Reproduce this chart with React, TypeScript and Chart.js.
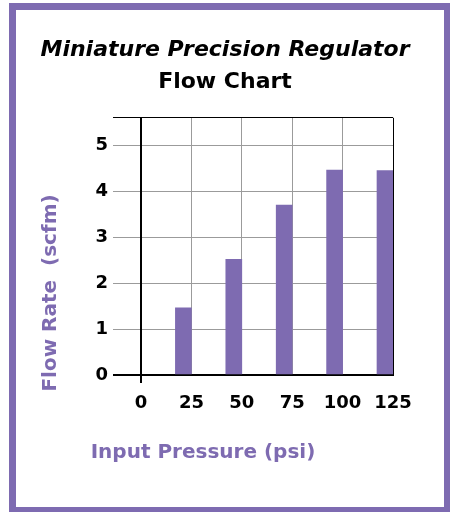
import { useEffect, useRef } from 'react';
import { Chart, registerables } from 'chart.js';

Chart.register(...registerables);

const chartTitle = 'Miniature Precision Regulator';
const chartSubtitle = 'Flow Chart';
const xAxisTitle = 'Input Pressure (psi)';
const yAxisTitle = 'Flow Rate  (scfm)';
const pressures = ['0', '25', '50', '75', '100', '125'];
const flowRates = [null, 1.46, 2.52, 3.7, 4.46, 4.45];
const spacer = [null, null, null, null, null, null];
const yTicks = [0, 1, 2, 3, 4, 5];
const yMax = 5.6;

const PURPLE = '#7e6bb1';
const GRID = '#9b9b9b';
const FONT = "'DejaVu Sans', 'Liberation Sans', sans-serif";

const axisTitles = {
  id: 'axisTitles',
  afterDraw(chart: any) {
    const { ctx, chartArea } = chart;
    ctx.save();
    ctx.fillStyle = PURPLE;
    ctx.font = `bold 20px ${FONT}`;
    ctx.textAlign = 'center';
    ctx.textBaseline = 'middle';
    ctx.fillText(xAxisTitle, chartArea.left + 62, chartArea.bottom + 78);
    ctx.translate(chartArea.left - 90, chartArea.bottom - 82);
    ctx.rotate(-Math.PI / 2);
    ctx.fillText(yAxisTitle, 0, 0);
    ctx.restore();
  },
};

export default function App() {
  const ref = useRef<HTMLCanvasElement>(null);

  useEffect(() => {
    const last = pressures.length - 1;
    const chart = new Chart(ref.current!, {
      type: 'bar',
      data: {
        labels: pressures,
        datasets: [
          { label: 'Flow rate', data: flowRates, backgroundColor: PURPLE, borderWidth: 0, barThickness: 16 },
          { label: '', data: spacer, backgroundColor: 'transparent', borderWidth: 0, barThickness: 16 },
        ],
      },
      options: {
        responsive: false,
        animation: false,
        layout: { padding: { left: 18, right: 28, top: 0, bottom: 92 } },
        plugins: {
          legend: { display: false },
          tooltip: { enabled: false },
          title: {
            display: true,
            text: chartTitle,
            color: '#000',
            font: { family: FONT, size: 22, weight: 'bold', style: 'italic', lineHeight: 1.2 },
            padding: { top: 27, bottom: 0 },
          },
          subtitle: {
            display: true,
            text: chartSubtitle,
            color: '#000',
            font: { family: FONT, size: 22, weight: 'bold', lineHeight: 1.2 },
            padding: { top: 6, bottom: 22 },
          },
        },
        scales: {
          x: {
            type: 'category',
            offset: false,
            grid: {
              offset: false,
              drawTicks: true,
              tickLength: 8,
              color: (c: any) => (c.index === 0 || c.index === last ? '#000' : GRID),
              lineWidth: (c: any) => (c.index === 0 ? 2 : 1),
              tickColor: (c: any) => (c.index === 0 ? '#000' : 'transparent'),
              tickWidth: (c: any) => (c.index === 0 ? 2 : 1),
            },
            border: { display: true, color: '#000', width: 2 },
            ticks: {
              color: '#000',
              font: { family: FONT, size: 18, weight: 'bold' },
              padding: 10,
              maxRotation: 0,
              autoSkip: false,
            },
            afterFit: (s: any) => {
              s.height = 40;
              s.paddingRight = 51;
            },
          },
          y: {
            min: 0,
            max: yMax,
            afterBuildTicks: (axis: any) => {
              axis.ticks = [...yTicks, yMax].map((value) => ({ value }));
            },
            grid: {
              drawTicks: true,
              tickLength: 28,
              color: (c: any) => (c.tick && (c.tick.value === 0 || c.tick.value === yMax) ? '#000' : GRID),
              lineWidth: (c: any) => (c.tick && c.tick.value === 0 ? 2 : 1),
            },
            border: { display: true, color: '#000', width: 2 },
            ticks: {
              color: '#000',
              font: { family: FONT, size: 18, weight: 'bold' },
              padding: 5,
              callback: (v: any) => (yTicks.includes(Number(v)) ? String(v) : ''),
            },
            afterFit: (s: any) => {
              s.width = 107;
            },
          },
        },
      },
      plugins: [axisTitles],
    } as any);
    return () => chart.destroy();
  }, []);

  return (
    <div
      style={{
        position: 'fixed',
        left: 9,
        top: 3,
        width: 428,
        height: 497,
        border: `7px solid ${PURPLE}`,
        background: '#fff',
      }}
    >
      <canvas ref={ref} width={428} height={497} style={{ display: 'block' }} />
    </div>
  );
}
